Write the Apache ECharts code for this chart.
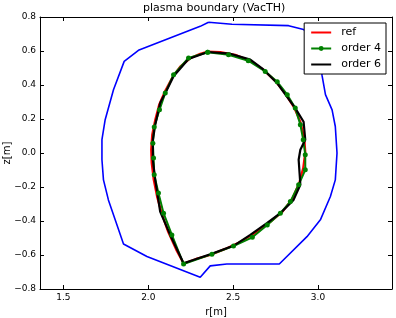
<!DOCTYPE html>
<html>
<head>
<meta charset="utf-8">
<script src="https://cdn.jsdelivr.net/npm/echarts@6/dist/echarts.min.js"></script>
<style>
  html, body { margin: 0; padding: 0; background: #fff; }
  #chart { width: 396px; height: 318px; }
</style>
</head>
<body>
<div id="chart"></div>
<script>
// vessel wall (blue, unlabeled)
const vesselR = [2.355, 2.493, 2.827, 2.915, 3.002, 3.024, 3.044, 3.083, 3.102, 3.112, 3.102, 3.073, 3.014, 2.935, 2.772, 2.463, 2.365, 2.306, 1.992, 1.854, 1.805, 1.765, 1.736, 1.727, 1.727, 1.746, 1.795, 1.858, 1.942, 2.306, 2.355]
const vesselZ = [0.769, 0.757, 0.749, 0.726, 0.667, 0.455, 0.343, 0.254, 0.156, 0.0, -0.158, -0.256, -0.393, -0.492, -0.653, -0.653, -0.664, -0.731, -0.609, -0.535, -0.393, -0.276, -0.158, -0.040, 0.078, 0.196, 0.372, 0.539, 0.604, 0.745, 0.769]

// reference boundary
const refR = [2.350, 2.424, 2.512, 2.601, 2.677, 2.748, 2.807, 2.860, 2.896, 2.919, 2.925, 2.913, 2.890, 2.848, 2.790, 2.719, 2.630, 2.542, 2.453, 2.365, 2.282, 2.208, 2.165, 2.117, 2.082, 2.052, 2.032, 2.020, 2.017, 2.023, 2.041, 2.064, 2.100, 2.141, 2.188, 2.247, 2.306, 2.350]
const refZ = [0.596, 0.593, 0.578, 0.543, 0.490, 0.424, 0.349, 0.266, 0.184, 0.090, 0.007, -0.087, -0.175, -0.270, -0.346, -0.405, -0.470, -0.523, -0.564, -0.600, -0.623, -0.650, -0.570, -0.464, -0.364, -0.258, -0.158, -0.058, 0.019, 0.107, 0.196, 0.284, 0.366, 0.443, 0.508, 0.557, 0.584, 0.596]

// order 4 fit
const o4R = [2.350, 2.473, 2.589, 2.689, 2.760, 2.819, 2.866, 2.896, 2.913, 2.925, 2.925, 2.886, 2.837, 2.778, 2.701, 2.613, 2.502, 2.375, 2.208, 2.139, 2.090, 2.060, 2.035, 2.031, 2.027, 2.035, 2.066, 2.100, 2.149, 2.237, 2.350]
const o4Z = [0.593, 0.578, 0.543, 0.480, 0.419, 0.343, 0.264, 0.166, 0.078, -0.011, -0.099, -0.187, -0.286, -0.354, -0.423, -0.496, -0.547, -0.595, -0.653, -0.482, -0.354, -0.236, -0.128, -0.030, 0.058, 0.153, 0.254, 0.353, 0.461, 0.559, 0.593]

// order 6 fit
const o6R = [2.351, 2.483, 2.601, 2.680, 2.758, 2.866, 2.915, 2.925, 2.896, 2.886, 2.892, 2.896, 2.856, 2.778, 2.699, 2.601, 2.502, 2.365, 2.208, 2.129, 2.070, 2.041, 2.027, 2.027, 2.041, 2.070, 2.110, 2.149, 2.237, 2.351]
const o6Z = [0.594, 0.584, 0.549, 0.490, 0.412, 0.264, 0.184, 0.078, 0.019, -0.040, -0.128, -0.187, -0.276, -0.354, -0.413, -0.482, -0.546, -0.596, -0.649, -0.482, -0.345, -0.158, -0.040, 0.078, 0.166, 0.294, 0.372, 0.451, 0.553, 0.594]

const xTicks = [1.5, 2.0, 2.5, 3.0]
const xMin = 1.362, xMax = 3.436
const yMin = -0.8, yMax = 0.8

const pairs = (a, b) => a.map((v, i) => [v, b[i]])

const font = 'DejaVu Sans'
const fmt = v => v.toFixed(1).replace('-', '\u2212')

const chart = echarts.init(document.getElementById('chart'))

const tickStyle = { inside: true, length: 4, lineStyle: { color: '#000', width: 1 } }
const lineAx = { show: true, onZero: false, lineStyle: { color: '#000', width: 1 } }

const option = {
  animation: false,
  title: {
    text: 'plasma boundary (VacTH)',
    left: 143,
    top: 3,
    padding: 0,
    textStyle: { fontFamily: font, fontSize: 11, fontWeight: 'normal', color: '#000' }
  },
  legend: {
    orient: 'vertical',
    right: 10,
    top: 23,
    padding: [4, 5, 4, 6],
    itemGap: 5,
    itemWidth: 20,
    itemHeight: 6,
    backgroundColor: '#fff',
    borderColor: '#000',
    borderWidth: 1,
    borderRadius: 0,
    textStyle: { fontFamily: font, fontSize: 11, color: '#000', padding: [0, 0, 0, 5] },
    data: [
      { name: 'ref', itemStyle: { opacity: 0 } },
      { name: 'order 4' },
      { name: 'order 6', itemStyle: { opacity: 0 } }
    ]
  },
  grid: { left: 40, right: 4, top: 17, bottom: 29, containLabel: false, outerBoundsMode: 'none' },
  xAxis: [
    {
      type: 'value', min: xMin, max: xMax,
      name: 'r[m]', nameLocation: 'middle', nameGap: 18,
      nameTextStyle: { fontFamily: font, fontSize: 10, color: '#000' },
      axisLine: lineAx,
      axisTick: Object.assign({ customValues: xTicks }, tickStyle),
      axisLabel: { customValues: xTicks, formatter: fmt, fontFamily: font, fontSize: 9, color: '#000', margin: 4 },
      splitLine: { show: false }
    },
    {
      type: 'value', min: xMin, max: xMax, position: 'top',
      axisLine: lineAx,
      axisTick: Object.assign({ customValues: xTicks }, tickStyle),
      axisLabel: { show: false },
      splitLine: { show: false }
    }
  ],
  yAxis: [
    {
      type: 'value', min: yMin, max: yMax, interval: 0.2,
      name: 'z[m]', nameLocation: 'middle', nameGap: 28, nameMoveOverlap: false,
      nameTextStyle: { fontFamily: font, fontSize: 10, color: '#000' },
      axisLine: lineAx,
      axisTick: tickStyle,
      axisLabel: { formatter: fmt, fontFamily: font, fontSize: 9, color: '#000', margin: 4 },
      splitLine: { show: false }
    },
    {
      type: 'value', min: yMin, max: yMax, interval: 0.2, position: 'right',
      axisLine: lineAx,
      axisTick: tickStyle,
      axisLabel: { show: false },
      splitLine: { show: false }
    }
  ],
  series: [
    {
      name: 'vessel', type: 'line', data: pairs(vesselR, vesselZ),
      symbol: 'none', lineStyle: { color: '#0000ff', width: 1.6 }, itemStyle: { color: '#0000ff' }
    },
    {
      name: 'ref', type: 'line', data: pairs(refR, refZ),
      symbol: 'none', lineStyle: { color: '#ff0000', width: 2.2 }, itemStyle: { color: '#ff0000' }
    },
    {
      name: 'order 4', type: 'line', data: pairs(o4R, o4Z),
      symbol: 'circle', symbolSize: 5,
      lineStyle: { color: '#008000', width: 2 }, itemStyle: { color: '#008000' }
    },
    {
      name: 'order 6', type: 'line', data: pairs(o6R, o6Z),
      symbol: 'none', lineStyle: { color: '#000000', width: 2.2 }, itemStyle: { color: '#000000' }
    }
  ]
}

chart.setOption(option)

window.addEventListener('resize', () => {
  chart.resize()
})
</script>
</body>
</html>
